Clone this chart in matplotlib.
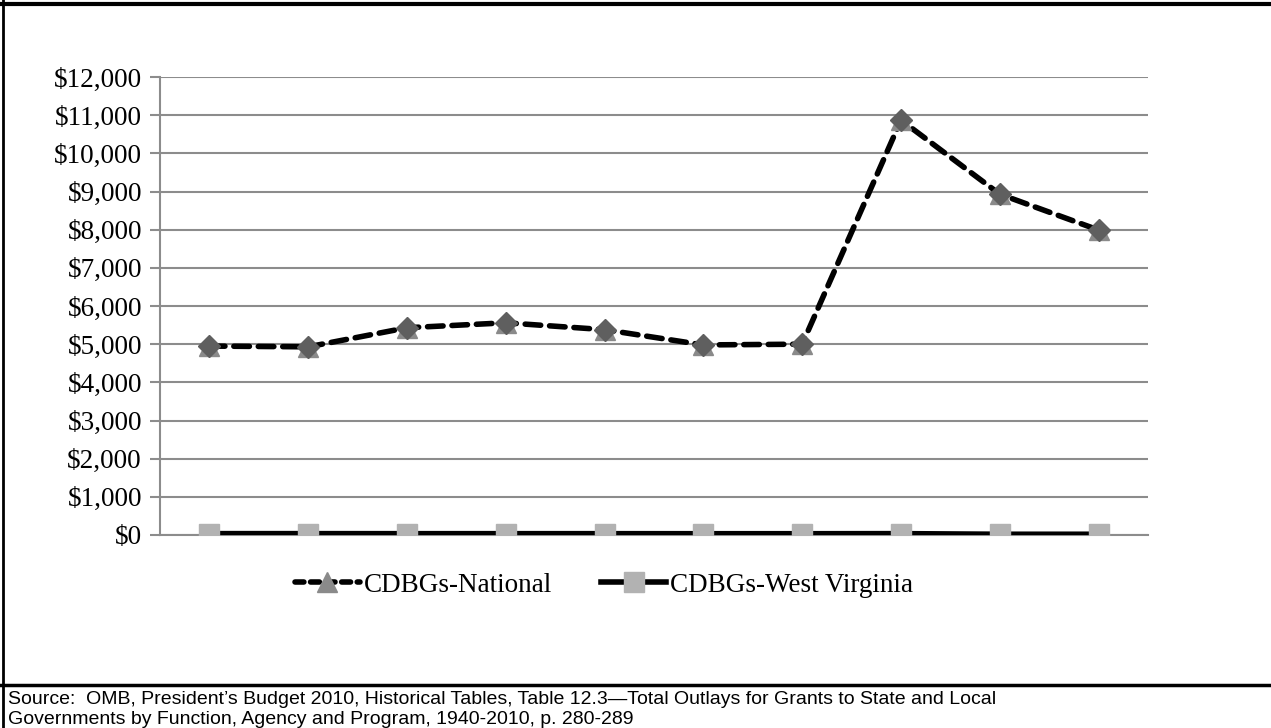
import numpy as np
import matplotlib.pyplot as plt
from matplotlib.lines import Line2D

years = np.arange(10)
national = [4950, 4930, 5430, 5560, 5380, 4980, 5000, 10870, 8930, 7990]
west_virginia = [36, 36, 35, 35, 35, 34, 34, 36, 20, 20]
yticks = np.arange(0, 13000, 1000)

fig = plt.figure(figsize=(12.71, 7.28), dpi=100)
ax = fig.add_axes([160/1271, 1 - 535/728, 988/1271, 458/728])

ax.plot(years, west_virginia, '-', color='black', lw=4, zorder=3,
        marker='s', ms=14, mfc='#b2b2b2', mec='#b2b2b2')
ax.plot(years, national, '--', color='black', lw=4, dashes=(2.8, 1.6),
        dash_capstyle='round', zorder=4, marker='^', ms=14,
        mfc='#8a8a8a', mec='#8a8a8a')
ax.plot(years, national, ' ', marker='D', ms=11, mfc='#5f5f5f', mec='#5f5f5f',
        zorder=5)

ax.set_xlim(-0.5, 9.5)
ax.set_ylim(0, 12000)
ax.set_yticks(yticks)
ax.set_yticklabels(['${:,}'.format(v) for v in yticks],
                   fontfamily='Liberation Serif', fontsize=19.5)
ax.set_xticks([])
ax.grid(axis='y', color='#8c8c8c', lw=1.5, zorder=0)
ax.tick_params(axis='y', length=7, width=1.5, color='#8c8c8c', pad=6)
for s in ['top', 'right']:
    ax.spines[s].set_visible(False)
ax.spines['left'].set_color('#8c8c8c')
ax.spines['left'].set_linewidth(1.5)
ax.spines['bottom'].set_color('#8c8c8c')
ax.spines['bottom'].set_linewidth(1.5)

h1 = Line2D([], [], ls='--', color='black', lw=4, dashes=(1.6, 1.2),
            dash_capstyle='round', marker='^', ms=14,
            mfc='#8a8a8a', mec='#8a8a8a')
h2 = Line2D([], [], ls='-', color='black', lw=4,
            marker='s', ms=14, mfc='#b2b2b2', mec='#b2b2b2')
fig.legend([h1, h2], ['CDBGs-National', 'CDBGs-West Virginia'],
           loc='center', bbox_to_anchor=(604/1271, 1 - 585/728), ncol=2,
           frameon=False, handlelength=2.4, columnspacing=1.8, handletextpad=0.15,
           prop={'family': 'Liberation Serif', 'size': 19.5})

# frame lines
fig.add_artist(Line2D([0, 1], [1 - 4/728, 1 - 4/728], color='black', lw=3))
fig.add_artist(Line2D([3/1271, 3/1271], [0, 1], color='black', lw=2))
fig.add_artist(Line2D([0, 1], [1 - 685/728, 1 - 685/728], color='black', lw=2.5))

fig.text(8/1271, 1 - 700/728,
         'Source:  OMB, President\u2019s Budget 2010, Historical Tables, Table 12.3\u2014Total Outlays for Grants to State and Local',
         fontfamily='Liberation Sans', fontsize=14, va='center')
fig.text(8/1271, 1 - 719/728,
         'Governments by Function, Agency and Program, 1940-2010, p. 280-289',
         fontfamily='Liberation Sans', fontsize=14, va='center')

fig.savefig('out.png', dpi=100)
